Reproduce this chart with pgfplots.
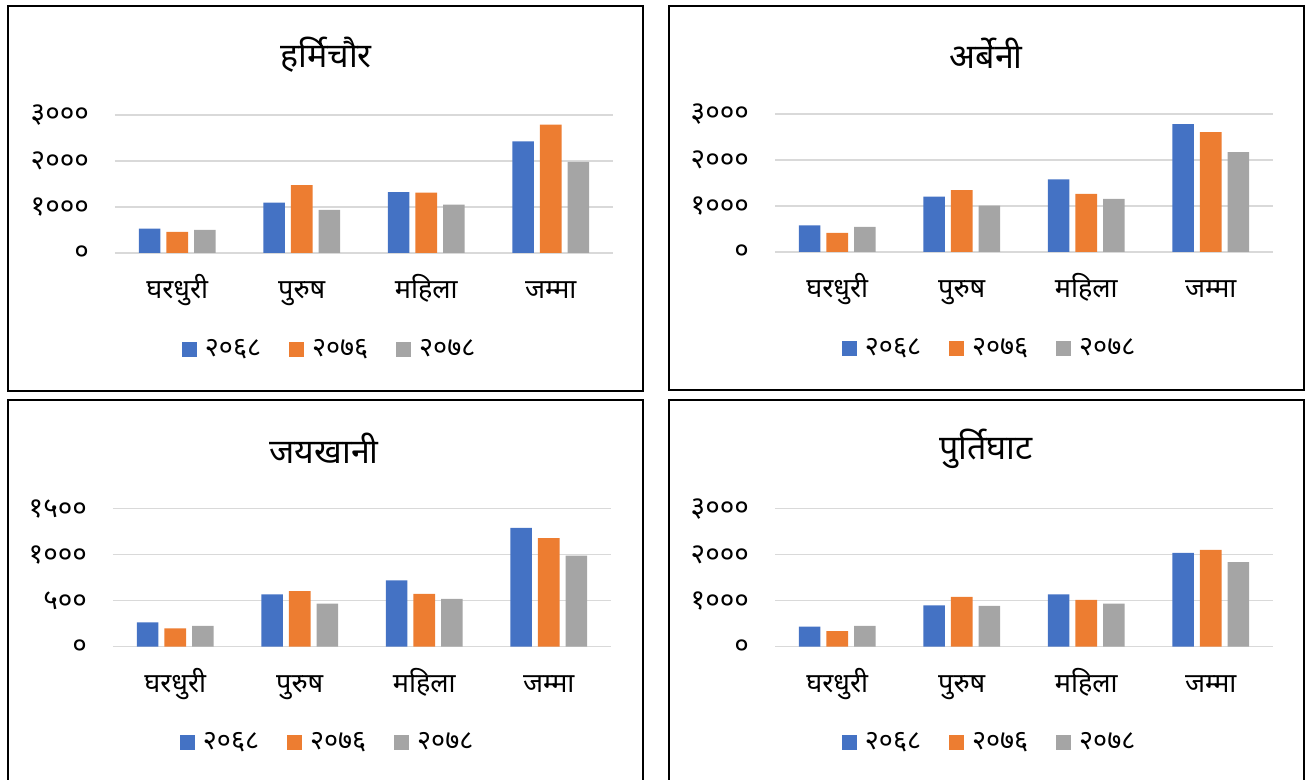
\documentclass[border=0pt]{standalone}
\usepackage{fontspec}
\setmainfont{Noto Sans}[Script=Devanagari]
\usepackage{pgfplots}
\pgfplotsset{compat=1.18}
\definecolor{cblue}{HTML}{4472C4}
\definecolor{corange}{HTML}{ED7D31}
\definecolor{cgray}{HTML}{A5A5A5}
\definecolor{cgrid}{HTML}{D9D9D9}
\pgfplotsset{
  panel/.style={
    scale only axis,
    width=249bp, height=69bp,
    anchor=south west,
    xmin=-0.5, xmax=3.5, ymin=0,
    axis line style={draw=none},
    major tick length=0pt,
    ymajorgrids, grid style={cgrid, line width=0.8bp},
    xtick={0,1,2,3},
    xticklabels={घरधुरी,पुरुष,महिला,जम्मा},
    xticklabel style={font=\fontsize{13.5bp}{15bp}\selectfont, anchor=base, yshift=-23bp},
    yticklabel style={font=\fontsize{14bp}{15bp}\selectfont, anchor=east, xshift=-9.5bp},
    ybar, bar width=0.174,
    title style={font=\fontsize{17bp}{19bp}\selectfont, anchor=center, at={(0.424,1.35)}},
    legend columns=3,
    legend style={draw=none, fill=none, at={(0.433,-0.696)}, anchor=center,
      font=\fontsize{13.5bp}{15bp}\selectfont,
      /tikz/every odd column/.append style={column sep=2bp},
      /tikz/every even column/.append style={column sep=12bp}},
    legend image code/.code={\fill[##1] (0bp,-3.75bp) rectangle (7.5bp,3.75bp);},
  },
  s1/.style={fill=cblue, draw=none, bar shift=-0.222},
  s2/.style={fill=corange, draw=none, bar shift=0},
  s3/.style={fill=cgray, draw=none, bar shift=0.222},
}
\begin{document}
\begin{tikzpicture}
\useasboundingbox (0,0) rectangle (655.5bp,390bp);
% frames
\draw[line width=1bp] (4bp,194.5bp) rectangle (321.5bp,387bp);
\draw[line width=1bp] (334.5bp,195bp) rectangle (652bp,387bp);
\draw[line width=1bp] (4bp,-5bp) rectangle (321.5bp,190bp);
\draw[line width=1bp] (334.5bp,-5bp) rectangle (652bp,190bp);

% Panel 1
\begin{axis}[panel, at={(57.5bp,263.5bp)}, ymax=3000,
  ytick={0,1000,2000,3000}, yticklabels={०,१०००,२०००,३०००},
  title={हर्मिचौर}]
\addplot[s1] coordinates {(0,530) (1,1097) (2,1322) (3,2426)};
\addplot[s2] coordinates {(0,458) (1,1474) (2,1314) (3,2789)};
\addplot[s3] coordinates {(0,501) (1,937) (2,1053) (3,1983)};
\legend{२०६८,२०७६,२०७८}
\end{axis}

% Panel 2
\begin{axis}[panel, at={(387.5bp,264bp)}, ymax=3000,
  ytick={0,1000,2000,3000}, yticklabels={०,१०००,२०००,३०००},
  title={अर्बेनी}]
\addplot[s1] coordinates {(0,581) (1,1206) (2,1576) (3,2781)};
\addplot[s2] coordinates {(0,414) (1,1343) (2,1264) (3,2607)};
\addplot[s3] coordinates {(0,545) (1,1009) (2,1155) (3,2171)};
\legend{२०६८,२०७६,२०७८}
\end{axis}

% Panel 3
\begin{axis}[panel, at={(56.5bp,66.65bp)}, ymax=1500,
  ytick={0,500,1000,1500}, yticklabels={०,५००,१०००,१५००},
  title={जयखानी}]
\addplot[s1] coordinates {(0,265) (1,570) (2,722) (3,1292)};
\addplot[s2] coordinates {(0,200) (1,603) (2,574) (3,1180)};
\addplot[s3] coordinates {(0,225) (1,468) (2,519) (3,991)};
\legend{२०६८,२०७६,२०७८}
\end{axis}

% Panel 4
\begin{axis}[panel, at={(387.5bp,66.65bp)}, ymax=3000,
  ytick={0,1000,2000,3000}, yticklabels={०,१०००,२०००,३०००},
  title={पुर्तिघाट}]
\addplot[s1] coordinates {(0,436) (1,900) (2,1140) (3,2040)};
\addplot[s2] coordinates {(0,341) (1,1082) (2,1016) (3,2105)};
\addplot[s3] coordinates {(0,450) (1,886) (2,937) (3,1837)};
\legend{२०६८,२०७६,२०७८}
\end{axis}
\end{tikzpicture}
\end{document}
